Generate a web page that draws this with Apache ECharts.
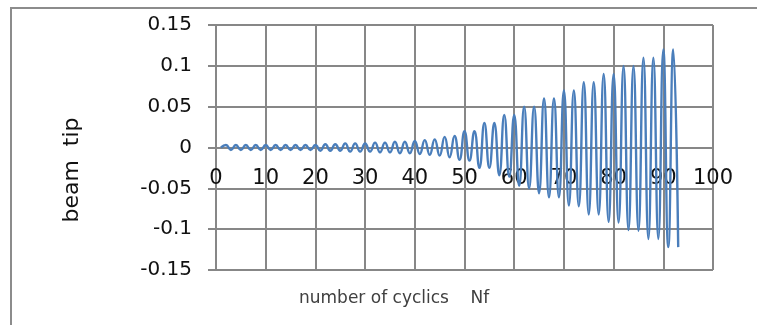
<!DOCTYPE html>
<html>
<head>
<meta charset="utf-8">
<script src="https://cdn.jsdelivr.net/npm/echarts@6/dist/echarts.min.js"></script>
<style>
  html, body { margin: 0; padding: 0; background: #fff; overflow: hidden; }
  #chart { width: 757px; height: 325px; }
</style>
</head>
<body>
<div id="chart"></div>
<script>
// beam tip displacement, one value per cycle starting at cycle 1
const firstCycle = 1;
const tipDisp = [
  0.000, 0.003, -0.003, 0.003, -0.003, 0.003, -0.003, 0.003, -0.003, 0.003,
  -0.003, 0.003, -0.003, 0.003, -0.003, 0.003, -0.003, 0.003, -0.003, 0.003,
  -0.004, 0.004, -0.004, 0.004, -0.004, 0.005, -0.005, 0.005, -0.005, 0.005,
  -0.005, 0.006, -0.006, 0.006, -0.006, 0.007, -0.007, 0.007, -0.007, 0.008,
  -0.008, 0.009, -0.009, 0.010, -0.010, 0.013, -0.012, 0.014, -0.015, 0.020,
  -0.016, 0.020, -0.025, 0.030, -0.025, 0.030, -0.034, 0.040, -0.036, 0.040,
  -0.047, 0.050, -0.050, 0.050, -0.056, 0.060, -0.061, 0.060, -0.061, 0.070,
  -0.071, 0.070, -0.072, 0.080, -0.082, 0.080, -0.082, 0.090, -0.091, 0.090,
  -0.092, 0.100, -0.101, 0.100, -0.102, 0.110, -0.112, 0.110, -0.112, 0.120,
  -0.122, 0.120, -0.122
];

const xTitle = "number of cyclics    Nf";
const yTitle = "beam  tip";

const gridColor = "#878787";
const frameColor = "#8c8c8c";
const font = "DejaVu Sans";

const chart = echarts.init(document.getElementById("chart"), null, { renderer: "canvas" });

chart.setOption({
  animation: false,
  backgroundColor: "#fff",
  grid: { left: 216, right: 44, top: 25, bottom: 55, containLabel: false },
  xAxis: {
    type: "value",
    min: 0,
    max: 100,
    interval: 10,
    // move the axis up from the bottom edge to y = 0 (plot is 245px tall)
    offset: -122.5,
    axisLine: { show: true, onZero: false, lineStyle: { color: gridColor, width: 2 } },
    axisTick: { show: false },
    axisLabel: { color: "#111", fontSize: 21, fontFamily: font, margin: 21 },
    splitLine: { show: true, lineStyle: { color: gridColor, width: 2 } },
  },
  yAxis: {
    type: "value",
    min: -0.15,
    max: 0.15,
    interval: 0.05,
    axisLine: { show: true, onZero: false, lineStyle: { color: gridColor, width: 2 } },
    axisTick: { show: true, length: 8, lineStyle: { color: gridColor, width: 2 } },
    axisLabel: {
      color: "#111", fontSize: 20, fontFamily: font, margin: 24,
      formatter: (v) => String(Math.round(v * 100) / 100),
    },
    splitLine: { show: true, lineStyle: { color: gridColor, width: 2 } },
  },
  graphic: [
    // outer frame: only the top and left edges are inside the picture
    {
      type: "polyline",
      shape: { points: [[11, 330], [11, 8], [760, 8]] },
      style: { stroke: frameColor, lineWidth: 2, fill: null },
    },
    {
      type: "text",
      x: 72, y: 170,
      rotation: Math.PI / 2,
      style: { text: yTitle, fill: "#111", font: "22px 'DejaVu Sans'", align: "center", verticalAlign: "middle" },
    },
    {
      type: "text",
      x: 299, y: 299,
      style: { text: xTitle, fill: "#404040", font: "17px 'DejaVu Sans'", align: "left", verticalAlign: "middle" },
    },
  ],
  series: [
    {
      type: "line",
      data: tipDisp.map((v, i) => [firstCycle + i, v]),
      smooth: 0.5,
      showSymbol: false,
      lineStyle: { color: "#4a7ebb", width: 2.4 },
    },
  ],
});
</script>
</body>
</html>
